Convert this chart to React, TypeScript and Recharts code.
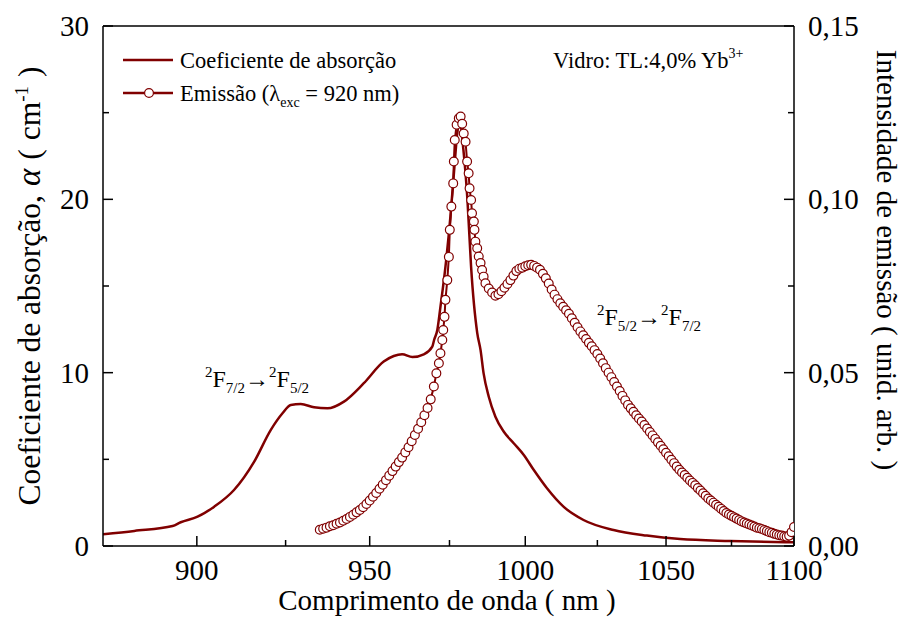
import React from "react";
import { LineChart, Line, XAxis, YAxis } from "recharts";

const RED = "#800000";
const FONT = '"Liberation Serif", "Times New Roman", serif';

// absorption coefficient (cm^-1) vs wavelength (nm)
const absWl = [
  875, 883.2, 893.4, 895.6, 900.2, 904.8, 910.3, 916, 920.7, 924.1, 926.5, 929.4,
  933.3, 937.3, 942.2, 948.2, 954.3, 957.4, 960, 963.2, 966.8, 969.5, 970.1, 971.1,
  972.1, 973.7, 975.3, 976.6, 977.5, 978.3, 979.5, 980.8, 982, 984, 985.1, 986.1,
  987.8, 990, 992.8, 996.1, 999.5, 1002.9, 1007.4, 1013.1, 1020.1, 1030.8, 1042.9,
  1055.3, 1074.5, 1100,
];
const absVal = [
  0.68, 0.87, 1.15, 1.37, 1.69, 2.27, 3.23, 4.87, 6.69, 7.66, 8.14, 8.19,
  8.0, 7.94, 8.33, 9.39, 10.64, 10.96, 11.06, 10.9, 11.06, 11.5, 11.9, 12.46,
  13.8, 16.1, 19.0, 21.9, 23.8, 24.5, 22.85, 20.0, 16.1, 12.3, 11.3, 9.96,
  8.61, 7.46, 6.59, 5.93, 5.25, 4.38, 3.33, 2.27, 1.5, 0.92, 0.6,
  0.4, 0.29, 0.21,
];

// emission intensity (arb. units) vs wavelength (nm)
const emWl = [
  935, 936, 937, 938, 939, 940, 941, 942, 943, 944, 945, 946, 947, 948, 949, 950,
  951, 952, 953, 954, 955, 956, 957, 958, 959, 960, 961, 962, 963, 964, 965, 966,
  967, 968, 969, 970, 970.8, 971.6, 972.1, 972.7, 973.0, 973.4, 973.7, 974.3, 974.8,
  975.1, 975.6, 976.2, 976.4, 976.7, 977.3, 978.0, 978.6, 979.1, 979.6, 980.2, 980.7,
  981.2, 981.5, 982.0, 982.3, 982.9, 983.1, 983.4, 984.0, 984.5, 985.1, 985.6, 986.1,
  986.7, 987.8, 988.9, 990.0,
  991, 992, 993, 994, 995, 996, 997, 998, 999, 1000, 1001, 1002, 1003, 1004, 1005,
  1006, 1007, 1008, 1009, 1010, 1011, 1012, 1013, 1014, 1015, 1016, 1017, 1018, 1019,
  1020, 1021, 1022, 1023, 1024, 1025, 1026, 1027, 1028, 1029, 1030, 1031, 1032, 1033,
  1034, 1035, 1036, 1037, 1038, 1039, 1040, 1041, 1042, 1043, 1044, 1045, 1046, 1047,
  1048, 1049, 1050, 1051, 1052, 1053, 1054, 1055, 1056, 1057, 1058, 1059, 1060, 1061,
  1062, 1063, 1064, 1065, 1066, 1067, 1068, 1069, 1070, 1071, 1072, 1073, 1074, 1075,
  1076, 1077, 1078, 1079, 1080, 1081, 1082, 1083, 1084, 1085, 1086, 1087, 1088, 1089,
  1090, 1091, 1092, 1093, 1094, 1095, 1096, 1097, 1098, 1099, 1100,
];
const emVal = [
  0.0047, 0.005, 0.0053, 0.0057, 0.006, 0.0064, 0.0068, 0.0073, 0.0078, 0.0084, 0.009,
  0.0097, 0.0104, 0.0112, 0.0121, 0.0131, 0.0142, 0.0153, 0.0165, 0.0177, 0.019, 0.0203,
  0.0216, 0.0229, 0.0242, 0.0255, 0.027, 0.0285, 0.0302, 0.032, 0.0338, 0.0357, 0.0377,
  0.0398, 0.0423, 0.046, 0.0498, 0.0527, 0.0556, 0.0594, 0.0623, 0.0661, 0.071, 0.0767,
  0.0834, 0.0912, 0.0979, 0.1046, 0.1109, 0.1171, 0.1215, 0.1234, 0.1239, 0.1218, 0.119,
  0.1166, 0.1109, 0.1075, 0.1032, 0.0998, 0.096, 0.0936, 0.0912, 0.0878, 0.0859, 0.0835,
  0.0816, 0.0796, 0.0777, 0.0758, 0.0743, 0.0731, 0.0722,
  0.0726, 0.0735, 0.0745, 0.0756, 0.0767, 0.078, 0.0793, 0.08, 0.0803, 0.0807, 0.081,
  0.0811, 0.0808, 0.0803, 0.0797, 0.0785, 0.0772, 0.0757, 0.074, 0.0725, 0.0712, 0.07,
  0.069, 0.068, 0.067, 0.0657, 0.0644, 0.0631, 0.0619, 0.0608, 0.0597, 0.0586, 0.0576,
  0.0565, 0.0554, 0.0541, 0.0527, 0.0513, 0.05, 0.0487, 0.0473, 0.046, 0.0447, 0.0433,
  0.042, 0.0407, 0.0397, 0.0387, 0.0377, 0.0368, 0.0359, 0.0349, 0.0339, 0.0329, 0.0319,
  0.0309, 0.0299, 0.0289, 0.0279, 0.0269, 0.0259, 0.0249, 0.0239, 0.0229, 0.022, 0.0212,
  0.0205, 0.0197, 0.0189, 0.0182, 0.0175, 0.0167, 0.016, 0.0152, 0.0145, 0.0137, 0.0131,
  0.0125, 0.0119, 0.0113, 0.0107, 0.0101, 0.0095, 0.0091, 0.0087, 0.0083, 0.0079, 0.0075,
  0.0071, 0.0068, 0.0065, 0.0062, 0.0059, 0.0056, 0.0053, 0.0051, 0.0049, 0.0046, 0.0043,
  0.004, 0.0038, 0.0035, 0.0033, 0.0031, 0.003, 0.0028, 0.0027, 0.003, 0.004, 0.0055,
];

const xTicksNm = [900, 925, 950, 975, 1000, 1025, 1050, 1075, 1100];
const yLeftTicks = [0, 5, 10, 15, 20, 25, 30];
const yRightTicks = [0, 0.025, 0.05, 0.075, 0.1, 0.125, 0.15];

// the wavelength axis is linear in 1/lambda, so plot against wavenumber (cm^-1)
const wn = (nm: number) => 1e7 / nm;
const absData = absWl.map((w, i) => ({ wn: wn(w), a: absVal[i] }));
const emData = emWl.map((w, i) => ({ wn: wn(w), e: emVal[i] }));
const xDomain = [wn(1100), wn(875)];

const tickLine = { stroke: "#000", strokeWidth: 1.5 };
const TICK_FS = 29;

function BottomTick(props: any) {
  const { x, y, payload } = props;
  const nm = Math.round(1e7 / payload.value);
  const major = nm % 50 === 0;
  return (
    <g>
      <line x1={x} y1={y} x2={x} y2={y - (major ? 10 : 6)} {...tickLine} />
      {major && (
        <text x={x} y={y + 33.5} textAnchor="middle" fontSize={TICK_FS} fontFamily={FONT} fill="#000">
          {nm}
        </text>
      )}
    </g>
  );
}

function TopTick(props: any) {
  const { x, y, payload } = props;
  const nm = Math.round(1e7 / payload.value);
  const major = nm % 50 === 0;
  return <line x1={x} y1={y} x2={x} y2={y + (major ? 10 : 6)} {...tickLine} />;
}

function LeftTick(props: any) {
  const { x, y, payload } = props;
  const major = payload.value % 10 === 0;
  return (
    <g>
      <line x1={x} y1={y} x2={x + (major ? 10 : 6)} y2={y} {...tickLine} />
      {major && (
        <text x={x - 14} y={y + 10} textAnchor="end" fontSize={TICK_FS} fontFamily={FONT} fill="#000">
          {payload.value}
        </text>
      )}
    </g>
  );
}

function RightTick(props: any) {
  const { x, y, payload } = props;
  const major = Math.round(payload.value * 1000) % 50 === 0;
  return (
    <g>
      <line x1={x} y1={y} x2={x - (major ? 10 : 6)} y2={y} {...tickLine} />
      {major && (
        <text x={x + 14} y={y + 10} textAnchor="start" fontSize={TICK_FS} fontFamily={FONT} fill="#000">
          {payload.value.toFixed(2).replace(".", ",")}
        </text>
      )}
    </g>
  );
}

export default function App() {
  return (
    <div style={{ position: "absolute", left: 0, top: 0, width: 902, height: 618, background: "#fff" }}>
      <LineChart width={902} height={618} margin={{ top: 6, right: 0, bottom: 0, left: 0 }}>
        <XAxis
          xAxisId="b"
          type="number"
          dataKey="wn"
          domain={xDomain}
          allowDataOverflow
          reversed
          ticks={xTicksNm.map(wn)}
          interval={0}
          height={72}
          tickSize={0}
          tickMargin={0}
          tickLine={false}
          axisLine={tickLine}
          tick={(p: any) => <BottomTick {...p} />}
        />
        <XAxis
          xAxisId="t"
          orientation="top"
          type="number"
          domain={xDomain}
          allowDataOverflow
          reversed
          ticks={xTicksNm.map(wn)}
          interval={0}
          height={20}
          tickSize={0}
          tickMargin={0}
          tickLine={false}
          axisLine={tickLine}
          tick={(p: any) => <TopTick {...p} />}
        />
        <YAxis
          yAxisId="a"
          type="number"
          domain={[0, 30]}
          ticks={yLeftTicks}
          interval={0}
          width={103}
          tickSize={0}
          tickMargin={0}
          tickLine={false}
          axisLine={tickLine}
          tick={(p: any) => <LeftTick {...p} />}
        />
        <YAxis
          yAxisId="e"
          orientation="right"
          type="number"
          domain={[0, 0.15]}
          allowDataOverflow
          ticks={yRightTicks}
          interval={0}
          width={108}
          tickSize={0}
          tickMargin={0}
          tickLine={false}
          axisLine={tickLine}
          tick={(p: any) => <RightTick {...p} />}
        />
        <Line
          data={absData}
          xAxisId="b"
          yAxisId="a"
          dataKey="a"
          type="monotone"
          stroke={RED}
          strokeWidth={2.5}
          dot={false}
          isAnimationActive={false}
        />
        <Line
          data={emData}
          xAxisId="b"
          yAxisId="e"
          dataKey="e"
          type="linear"
          stroke={RED}
          strokeWidth={2}
          dot={{ r: 4.4, fill: "#fff", stroke: RED, strokeWidth: 1.2 }}
          isAnimationActive={false}
        />
      </LineChart>

      <svg
        width={902}
        height={618}
        style={{ position: "absolute", left: 0, top: 0, pointerEvents: "none" }}
        fontFamily={FONT}
      >
        {/* axis titles */}
        <text x={447} y={610} textAnchor="middle" fontSize={29}>
          Comprimento de onda ( nm )
        </text>
        <text transform="translate(40,286) rotate(-90)" textAnchor="middle" fontSize={31.5}>
          Coeficiente de absorção,
          <tspan dx={9} fontStyle="italic" fontSize={33}>α</tspan>
          <tspan dx={9}>(</tspan>
          <tspan dx={9}>cm</tspan>
          <tspan fontSize={19} dy={-12}>-1</tspan>
          <tspan dx={9} dy={12}>)</tspan>
        </text>
        <text transform="translate(877,260) rotate(90)" textAnchor="middle" fontSize={29}>
          Intensidade de emissão ( unid. arb. )
        </text>

        {/* legend */}
        <line x1={123} y1={60} x2={173} y2={60} stroke={RED} strokeWidth={2.5} />
        <text x={180} y={67.5} fontSize={22.5}>Coeficiente de absorção</text>
        <line x1={123} y1={93} x2={173} y2={93} stroke={RED} strokeWidth={2.5} />
        <circle cx={149} cy={93} r={4.4} fill="#fff" stroke={RED} strokeWidth={1.2} />
        <text x={180} y={100.5} fontSize={22.5}>
          Emissão (λ<tspan fontSize={14} dy={6}>exc</tspan>
          <tspan dy={-6}> = 920 nm)</tspan>
        </text>

        <text x={553} y={67.5} fontSize={22.5}>
          Vidro: TL:4,0% Yb<tspan fontSize={14} dy={-10}>3+</tspan>
        </text>

        {/* transition labels */}
        <text x={205} y={387} fontSize={24}>
          <tspan fontSize={15} dy={-10}>2</tspan>
          <tspan dy={10}>F</tspan>
          <tspan fontSize={15} dy={6}>7/2</tspan>
          <tspan dy={-6}>→</tspan>
          <tspan fontSize={15} dy={-10}>2</tspan>
          <tspan dy={10}>F</tspan>
          <tspan fontSize={15} dy={6}>5/2</tspan>
        </text>
        <text x={597} y={325} fontSize={24}>
          <tspan fontSize={15} dy={-10}>2</tspan>
          <tspan dy={10}>F</tspan>
          <tspan fontSize={15} dy={6}>5/2</tspan>
          <tspan dy={-6}>→</tspan>
          <tspan fontSize={15} dy={-10}>2</tspan>
          <tspan dy={10}>F</tspan>
          <tspan fontSize={15} dy={6}>7/2</tspan>
        </text>
      </svg>
    </div>
  );
}
